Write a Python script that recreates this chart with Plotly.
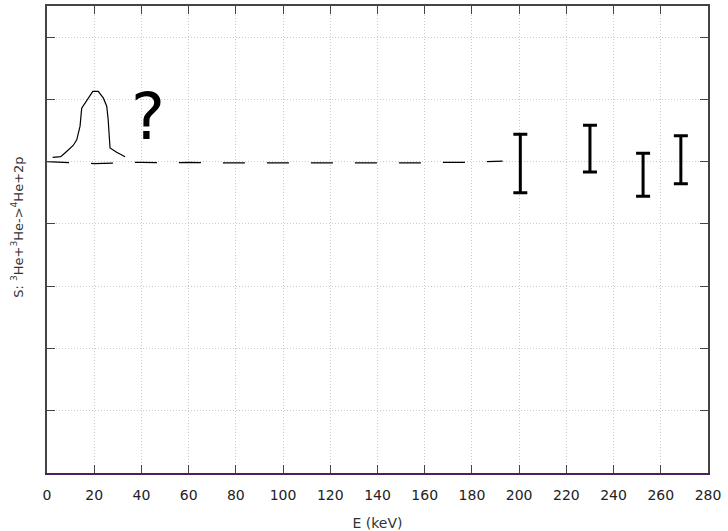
import plotly.graph_objects as go

# Peak curve (hand-drawn resonance guess)
peak_E = [2.4, 5.8, 7.6, 11.1, 12.6, 14.0, 14.7, 16.1, 18.2, 19.4, 21.7, 23.9, 25.3, 25.9, 26.7, 29.5, 33.1]
peak_S = [5.07, 5.08, 5.14, 5.26, 5.35, 5.57, 5.86, 5.94, 6.06, 6.13, 6.13, 6.02, 5.89, 5.68, 5.22, 5.15, 5.08]

# Dashed baseline
base_E = [0, 10, 20, 30, 40, 50, 60, 70, 80, 90, 100, 110, 120, 130, 140, 150, 160, 170, 180, 193]
base_S = [5.0, 4.99, 4.97, 4.98, 4.99, 4.98, 4.99, 4.98, 4.98, 4.97, 4.97, 4.97, 4.98, 4.98, 4.98, 4.98, 4.98, 4.99, 4.99, 5.01]

# Measured points with error bars
meas_E = [200.5, 230.0, 252.5, 268.5]
meas_S = [4.97, 5.21, 4.79, 5.03]
meas_err = [0.47, 0.375, 0.345, 0.385]

x_ticks = list(range(0, 281, 20))
y_ticks = list(range(0, 8))

fig = go.Figure()

fig.add_trace(go.Scatter(x=base_E, y=base_S, mode="lines",
                         line=dict(color="black", width=1.2, dash="22px,22px"),
                         showlegend=False, hoverinfo="skip"))
fig.add_trace(go.Scatter(x=peak_E, y=peak_S, mode="lines",
                         line=dict(color="black", width=1.2),
                         showlegend=False, hoverinfo="skip"))
fig.add_trace(go.Scatter(x=meas_E, y=meas_S, mode="markers",
                         marker=dict(size=1, color="black", opacity=0),
                         error_y=dict(type="data", array=meas_err, visible=True,
                                      color="black", thickness=3, width=7),
                         showlegend=False))
# top axis trace (invisible) for mirrored ticks
fig.add_trace(go.Scatter(x=[0, 280], y=[0, 0], xaxis="x2", mode="lines",
                         line=dict(width=0), showlegend=False, hoverinfo="skip"))

fig.add_annotation(x=42.8, y=5.71, xref="x", yref="y", text="?", showarrow=False,
                   font=dict(family="DejaVu Sans", size=64, color="black"))

fig.add_annotation(x=0, y=0.525, xref="paper", yref="paper",
                   text="S: <sup>3</sup>He+<sup>3</sup>He-&gt;<sup>4</sup>He+2p",
                   textangle=-90, showarrow=False, xanchor="center", yanchor="middle",
                   xshift=-30, font=dict(family="DejaVu Sans", size=13, color="#333333"))

fig.update_layout(
    width=728, height=531,
    margin=dict(l=47, r=20, t=6, b=58),
    paper_bgcolor="white", plot_bgcolor="white",
    font=dict(family="DejaVu Sans", size=14, color="#222222"),
    xaxis=dict(range=[0, 280], tickvals=x_ticks, ticktext=[str(v) for v in x_ticks],
               ticks="inside", ticklen=8, tickcolor="#444444", tickwidth=1,
               ticklabelstandoff=8, tickfont=dict(size=14, color="#222222"),
               showline=True, linecolor="#4a1f63", linewidth=2, automargin=False,
               showgrid=True, gridcolor="#cccccc", griddash="1px,2px", gridwidth=1,
               zeroline=False,
               title=dict(text="E (keV)", font=dict(size=14, color="#333333"), standoff=16)),
    xaxis2=dict(range=[0, 280], tickvals=x_ticks, overlaying="x", side="top",
                ticks="inside", ticklen=8, tickcolor="#444444", automargin=False,
                showticklabels=False, showline=True, linecolor="#444444", linewidth=2,
                showgrid=False, zeroline=False),
    yaxis=dict(range=[0, 7.5], tickvals=y_ticks, showticklabels=False,
               ticks="inside", ticklen=8, tickcolor="#444444", automargin=False,
               showline=True, linecolor="#444444", linewidth=2, mirror="ticks",
               showgrid=True, gridcolor="#cccccc", griddash="1px,2px", gridwidth=1,
               zeroline=False),
)

fig.write_html("out.html")
